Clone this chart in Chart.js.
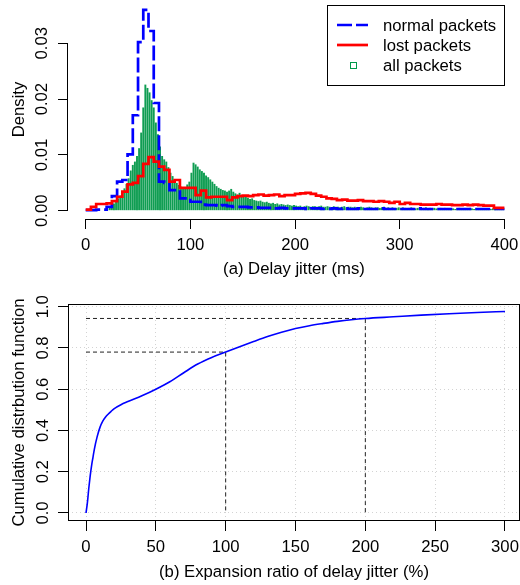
<!DOCTYPE html>
<html>
<head>
<meta charset="utf-8">
<script src="https://cdn.jsdelivr.net/npm/chart.js@4"></script>
<style>
  html, body { margin: 0; padding: 0; background: #fff; }
  #wrap { position: relative; width: 520px; height: 585px; overflow: hidden; }
  #jitterChart { position: absolute; left: 0; top: 0; }
  #ratioChart { position: absolute; left: 0; top: 280px; }
</style>
</head>
<body>
<div id="wrap">
  <canvas id="jitterChart" width="520" height="280"></canvas>
  <canvas id="ratioChart" width="520" height="305"></canvas>
</div>
<script>
// ---- (a) delay jitter densities ----
const allBinWidth = 2;   // ms per bin, all packets
const stepBinWidth = 5;  // ms per bin, normal / lost packets

const allPackets = [
  0, 0, 0, 0, 0, 0, 0, 0, 0, 0,
  0.0002, 0.0005, 0.0008, 0.0013, 0.0018, 0.0022, 0.0027, 0.0033, 0.0040, 0.0048,
  0.0058, 0.0072, 0.0082, 0.0088, 0.0098, 0.0112, 0.0140, 0.0185, 0.0226, 0.0220,
  0.0212, 0.0198, 0.0185, 0.0158, 0.0137, 0.0115, 0.0098, 0.0092, 0.0088, 0.0078,
  0.0068, 0.0062, 0.0056, 0.0050, 0.0046, 0.0043, 0.0041, 0.0042, 0.0047, 0.0052,
  0.0068, 0.0086, 0.0083, 0.0079, 0.0074, 0.0071, 0.0068, 0.0063, 0.0060, 0.0056,
  0.0052, 0.0048, 0.0044, 0.0041, 0.0039, 0.0037, 0.0036, 0.0034, 0.0036, 0.0039,
  0.0034, 0.0031, 0.0029, 0.0032, 0.0027, 0.0025, 0.0026, 0.0023, 0.0021, 0.0022,
  0.0019, 0.0018, 0.0017, 0.0018, 0.0016, 0.0015, 0.0016, 0.0014, 0.0013, 0.0014,
  0.0012, 0.0013, 0.0011, 0.0012, 0.0011, 0.0010, 0.0011, 0.0010, 0.0009, 0.0010,
  0.0009, 0.0008, 0.0009, 0.0007, 0.0008, 0.0009, 0.0008, 0.0007, 0.0008, 0.0008,
  0.0007, 0.0008, 0.0009, 0.0007, 0.0007, 0.0008, 0.0007, 0.0006, 0.0008, 0.0007,
  0.0007, 0.0006, 0.0007, 0.0008, 0.0006, 0.0007, 0.0007, 0.0006, 0.0007, 0.0006,
  0.0006, 0.0007, 0.0006, 0.0005, 0.0006, 0.0007, 0.0006, 0.0005, 0.0006, 0.0006,
  0.0005, 0.0006, 0.0007, 0.0005, 0.0006, 0.0005, 0.0006, 0.0005, 0.0005, 0.0006,
  0.0005, 0.0006, 0.0005, 0.0004, 0.0005, 0.0006, 0.0005, 0.0004, 0.0005, 0.0005,
  0.0004, 0.0005, 0.0006, 0.0004, 0.0005, 0.0004, 0.0005, 0.0004, 0.0004, 0.0005,
  0.0004, 0.0005, 0.0004, 0.0004, 0.0005, 0.0004, 0.0003, 0.0004, 0.0005, 0.0004,
  0.0004, 0.0003, 0.0004, 0.0005, 0.0004, 0.0003, 0.0004, 0.0004, 0.0003, 0.0004,
  0.0004, 0.0003, 0.0004, 0.0003, 0.0004, 0.0004, 0.0003, 0.0004, 0.0003, 0.0003
];

const normalPackets = [
  0.0001, 0.0001, 0.0002, 0.0002, 0.0007, 0.0026, 0.0052, 0.0055, 0.0101, 0.0171,
  0.0302, 0.0360, 0.0322, 0.0193, 0.0052, 0.0050, 0.0037, 0.0037, 0.0022, 0.0022,
  0.0016, 0.0016, 0.0011, 0.0010, 0.0010, 0.0009, 0.0010, 0.0008, 0.0007, 0.0007,
  0.0007, 0.0006, 0.0006, 0.0005, 0.0005, 0.0005, 0.0004, 0.0005, 0.0004, 0.0004,
  0.0004, 0.0004, 0.0003, 0.0004, 0.0004, 0.0003, 0.0003, 0.0004, 0.0003, 0.0004,
  0.0003, 0.0003, 0.0004, 0.0003, 0.0003, 0.0003, 0.0004, 0.0003, 0.0003, 0.0003,
  0.0003, 0.0003, 0.0003, 0.0004, 0.0003, 0.0003, 0.0003, 0.0003, 0.0003, 0.0003,
  0.0003, 0.0003, 0.0003, 0.0003, 0.0003, 0.0003, 0.0003, 0.0003, 0.0003, 0.0003
];

const lostPackets = [
  0.0002, 0.0007, 0.0012, 0.0012, 0.0013, 0.0017, 0.0025, 0.0034, 0.0047, 0.0050,
  0.0062, 0.0084, 0.0096, 0.0088, 0.0079, 0.0073, 0.0052, 0.0055, 0.0041, 0.0041,
  0.0041, 0.0028, 0.0036, 0.0024, 0.0025, 0.0025, 0.0025, 0.0019, 0.0024, 0.0026,
  0.0027, 0.0026, 0.0028, 0.0029, 0.0027, 0.0028, 0.0029, 0.0026, 0.0028, 0.0028,
  0.0030, 0.0031, 0.0032, 0.0030, 0.0027, 0.0025, 0.0022, 0.0021, 0.0019, 0.0020,
  0.0018, 0.0018, 0.0019, 0.0017, 0.0017, 0.0016, 0.0017, 0.0016, 0.0014, 0.0016,
  0.0012, 0.0014, 0.0012, 0.0012, 0.0011, 0.0011, 0.0011, 0.0012, 0.0011, 0.0011,
  0.0010, 0.0010, 0.0011, 0.0010, 0.0011, 0.0010, 0.0009, 0.0009, 0.0005, 0.0005
];

const jitterTicks = [0, 100, 200, 300, 400];
const densityTicks = [0, 0.01, 0.02, 0.03];
const seriesNames = ['normal packets', 'lost packets', 'all packets'];

// ---- (b) expansion ratio CDF ----
const ratioX = [0, 1, 2, 3, 4, 5, 6, 8, 10, 12, 14, 16, 18, 20, 25, 30, 40, 50, 60, 70,
                80, 90, 100, 110, 120, 130, 140, 150, 160, 170, 180, 190, 200, 220, 240, 260, 280, 300];
const ratioCdf = [0, 0.05, 0.12, 0.18, 0.23, 0.27, 0.31, 0.37, 0.415, 0.445, 0.465, 0.48, 0.493, 0.505, 0.525, 0.54, 0.568, 0.60, 0.636, 0.68,
                  0.722, 0.754, 0.78, 0.806, 0.831, 0.855, 0.876, 0.894, 0.908, 0.919, 0.929, 0.937, 0.943, 0.951, 0.959, 0.966, 0.972, 0.977];
const ratioMarks = [100, 200];
const ratioTicks = [0, 50, 100, 150, 200, 250, 300];
const cdfTicks = [0, 0.2, 0.4, 0.6, 0.8, 1.0];

// ---- shared styling ----
const FONT = "'Liberation Sans', Arial, Helvetica, sans-serif";
Chart.defaults.font.family = FONT;
Chart.defaults.font.size = 16.7;
Chart.defaults.color = '#000';

const BLUE = '#0000ff', RED = '#ff0000', GREEN = '#00984a', GREEN_FILL = '#0f9d52';
const NORMAL_DASH = [15, 4];

// histogram bins -> step-line points (value held from each left edge)
function stepPoints(values, width) {
  const pts = values.map((v, i) => ({ x: i * width, y: v }));
  pts.push({ x: values.length * width, y: values[values.length - 1] });
  return pts;
}

function fixedTicks(list) {
  return scale => { scale.ticks = list.map(v => ({ value: v })); };
}

// R-style axis lines spanning first..last tick, plus the boxed legend
const jitterDecor = {
  id: 'jitterDecor',
  afterDraw(chart) {
    const { ctx, chartArea, scales: { x, y } } = chart;
    ctx.save();
    ctx.strokeStyle = '#000';
    ctx.lineWidth = 1;
    ctx.setLineDash([]);
    const yAxis = Math.round(chartArea.bottom) + 0.5;
    ctx.beginPath();
    ctx.moveTo(Math.floor(x.getPixelForValue(jitterTicks[0])) + 0.5, yAxis);
    ctx.lineTo(Math.floor(x.getPixelForValue(jitterTicks[jitterTicks.length - 1])) + 0.5, yAxis);
    const xAxis = Math.round(chartArea.left) - 0.5;
    ctx.moveTo(xAxis, Math.floor(y.getPixelForValue(densityTicks[0])) + 0.5);
    ctx.lineTo(xAxis, Math.floor(y.getPixelForValue(densityTicks[densityTicks.length - 1])) + 0.5);
    ctx.stroke();

    // legend box
    const bx = 327.5, by = 5.5, bw = 177, bh = 80;
    ctx.fillStyle = '#fff';
    ctx.fillRect(bx, by, bw, bh);
    ctx.strokeRect(bx, by, bw, bh);
    const rows = [25, 45, 65];
    const sx0 = 337, sx1 = 368, tx = 383;
    ctx.lineWidth = 2.7;
    ctx.strokeStyle = BLUE;
    ctx.setLineDash(NORMAL_DASH);
    ctx.beginPath(); ctx.moveTo(sx0, rows[0]); ctx.lineTo(sx1, rows[0]); ctx.stroke();
    ctx.setLineDash([]);
    ctx.strokeStyle = RED;
    ctx.beginPath(); ctx.moveTo(sx0, rows[1]); ctx.lineTo(sx1, rows[1]); ctx.stroke();
    ctx.lineWidth = 1;
    ctx.strokeStyle = GREEN;
    ctx.strokeRect(350.5, rows[2] - 2.5, 6, 6);
    ctx.fillStyle = '#000';
    ctx.font = '16.7px ' + FONT;
    ctx.textAlign = 'left';
    ctx.textBaseline = 'middle';
    seriesNames.forEach((name, i) => ctx.fillText(name, tx, rows[i] + 1));
    ctx.restore();
  }
};

new Chart(document.getElementById('jitterChart'), {
  type: 'bar',
  data: {
    datasets: [
      {
        type: 'line', label: seriesNames[1], order: 0,
        data: stepPoints(lostPackets, stepBinWidth),
        stepped: 'before', borderColor: RED, borderWidth: 2.7,
        pointRadius: 0, fill: false
      },
      {
        type: 'line', label: seriesNames[0], order: 1,
        data: stepPoints(normalPackets, stepBinWidth),
        stepped: 'before', borderColor: BLUE, borderWidth: 2.7, borderDash: NORMAL_DASH,
        pointRadius: 0, fill: false
      },
      {
        type: 'bar', label: seriesNames[2], order: 2,
        data: allPackets.map((v, j) => ({ x: (j + 0.5) * allBinWidth, y: v })),
        backgroundColor: GREEN_FILL, borderColor: GREEN, borderWidth: 0,
        barPercentage: 0.92, categoryPercentage: 1
      }
    ]
  },
  options: {
    responsive: false,
    devicePixelRatio: 1,
    animation: false,
    events: [],
    layout: { padding: 0 },
    plugins: { legend: { display: false }, tooltip: { enabled: false } },
    scales: {
      x: {
        type: 'linear', min: -16.91, max: 414.9, offset: false,
        afterBuildTicks: fixedTicks(jitterTicks),
        afterFit: s => { s.height = 61; s.paddingLeft = 0; s.paddingRight = 0; },
        grid: { offset: false, drawOnChartArea: false, drawTicks: true, tickLength: 10, color: '#000', tickColor: '#000' },
        border: { display: false },
        ticks: { autoSkip: false, maxRotation: 0, minRotation: 0, padding: 6, color: '#000' },
        title: { display: true, text: '(a) Delay jitter (ms)', color: '#000', padding: { top: 0, bottom: 1 } }
      },
      y: {
        type: 'linear', min: -0.00149, max: 0.03776,
        afterBuildTicks: fixedTicks(densityTicks),
        afterFit: s => { s.width = 68; s.paddingTop = 0; s.paddingBottom = 0; },
        grid: { drawOnChartArea: false, drawTicks: true, tickLength: 10, color: '#000', tickColor: '#000' },
        border: { display: false },
        ticks: { minRotation: 90, maxRotation: 90, crossAlign: 'center', padding: -1, color: '#000',
                 callback: v => Number(v).toFixed(2) },
        title: { display: true, text: 'Density', color: '#000', padding: { top: 9, bottom: 0 } }
      }
    }
  },
  plugins: [jitterDecor]
});

// ---- (b) ----
const plotFrame = {
  id: 'plotFrame',
  afterDraw(chart) {
    const { ctx, chartArea: a } = chart;
    ctx.save();
    ctx.strokeStyle = '#000';
    ctx.lineWidth = 1;
    ctx.setLineDash([]);
    ctx.strokeRect(Math.round(a.left) + 0.5, Math.round(a.top) + 0.5,
                   Math.round(a.right) - Math.round(a.left) - 1, Math.round(a.bottom) - Math.round(a.top) - 1);
    ctx.restore();
  }
};

const markSets = ratioMarks.map(m => {
  const v = ratioCdf[ratioX.indexOf(m)];
  return {
    data: [{ x: 0, y: v }, { x: m, y: v }, { x: m, y: 0 }],
    borderColor: '#222', borderWidth: 1, borderDash: [4, 3],
    pointRadius: 0, fill: false, order: 1
  };
});

const ratioGrid = {
  drawOnChartArea: true, drawTicks: true, color: '#d3d3d3', lineWidth: 1, borderDash: [1, 3],
  tickLength: 10, tickColor: '#000', tickWidth: 1
};

new Chart(document.getElementById('ratioChart'), {
  type: 'line',
  data: {
    datasets: [
      {
        data: ratioX.map((x, i) => ({ x, y: ratioCdf[i] })),
        borderColor: BLUE, borderWidth: 1.6, pointRadius: 0, fill: false,
        cubicInterpolationMode: 'monotone', order: 0
      },
      ...markSets
    ]
  },
  options: {
    responsive: false,
    devicePixelRatio: 1,
    animation: false,
    events: [],
    layout: { padding: { top: 24, left: 0, right: 0, bottom: 0 } },
    plugins: { legend: { display: false }, tooltip: { enabled: false } },
    scales: {
      x: {
        type: 'linear', min: -12.89, max: 310.74,
        afterBuildTicks: fixedTicks(ratioTicks),
        afterFit: s => { s.height = 64; s.paddingLeft = 0; s.paddingRight = 0; },
        grid: ratioGrid,
        border: { display: false, dash: [1, 3] },
        ticks: { autoSkip: false, maxRotation: 0, minRotation: 0, padding: 6, color: '#000' },
        title: { display: true, text: '(b) Expansion ratio of delay jitter (%)', color: '#000', padding: { top: 0, bottom: 2.5 } }
      },
      y: {
        type: 'linear', min: -0.0388, max: 1.0131,
        afterBuildTicks: fixedTicks(cdfTicks),
        afterFit: s => { s.width = 68; s.paddingTop = 0; s.paddingBottom = 0; },
        grid: ratioGrid,
        border: { display: false, dash: [1, 3] },
        ticks: { minRotation: 90, maxRotation: 90, crossAlign: 'center', padding: 3, color: '#000',
                 callback: v => Number(v).toFixed(1) },
        title: { display: true, text: 'Cumulative distrbution function', color: '#000', padding: { top: 9, bottom: 0 } }
      }
    }
  },
  plugins: [plotFrame]
});
</script>
</body>
</html>
